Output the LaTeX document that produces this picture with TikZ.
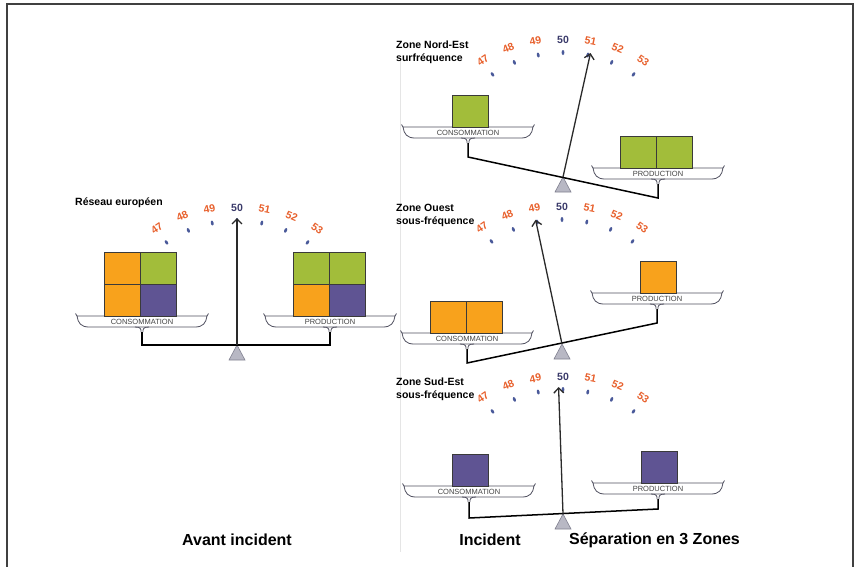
\documentclass[tikz,border=0pt]{standalone}
\usepackage{fontspec}
\setmainfont{Liberation Sans}
\usetikzlibrary{arrows.meta,calc,shapes.geometric}
\definecolor{cOrange}{HTML}{F8A21C}
\definecolor{cGreen}{HTML}{A2BD3A}
\definecolor{cPurple}{HTML}{5F5493}
\definecolor{boxline}{HTML}{3A3A3A}
\definecolor{panc}{HTML}{505060}
\definecolor{panlbl}{HTML}{444444}
\definecolor{numred}{HTML}{E8602C}
\definecolor{numdark}{HTML}{3A3A6A}
\definecolor{tickc}{HTML}{4A5A9A}
\definecolor{fulc}{HTML}{B8B8C4}
\definecolor{fulcd}{HTML}{808090}
\definecolor{needlec}{HTML}{2A2A2A}
\definecolor{framec}{HTML}{404040}
\newcommand{\drawgauge}[4]{%
  \coordinate (#1-pivot) at (#2,#3);
  \foreach \v [count=\k from -3] in {47,48,49,50,51,52,53}{%
    \pgfmathsetmacro{\ang}{90-11.5*\k}%
    \pgfmathsetmacro{\rad}{137+1.5*abs(\k)}%
    \pgfmathsetmacro{\rot}{\ang-90}%
    \ifnum\v=50 \def\ncol{numdark}\else\def\ncol{numred}\fi
    \node[numlbl, text=\ncol, rotate=\rot] (#1-n\v) at ($(#1-pivot)+({\rad*cos(\ang)},{-\rad*sin(\ang)})$) {\v};
    \node[tickmark, rotate=\rot] (#1-t\v) at ($(#1-pivot)+({124.5*cos(\ang)},{-124.5*sin(\ang)})$) {};
  }%
  \filldraw[fulcrum] (#1-pivot) -- ++(-8,15) -- ++(16,0) -- cycle;
  \coordinate (#1-tip) at ($(#1-pivot)+({127*cos(#4)},{-127*sin(#4)})$);
}
\tikzset{
  pics/pan/.style={code={
    \filldraw[panfill] (-65,0) .. controls (-64,7) and (-61,11) .. (-53,11) -- (53,11) .. controls (61,11) and (64,7) .. (65,0) -- cycle;
    \draw[panstroke] (-65,0) -- (-66.5,-2.5);
    \draw[panstroke] (65,0) -- (66.5,-2.5);
    \draw[panstroke] (-7,11) .. controls (-1,11) and (-1,13) .. (-1,16);
    \draw[panstroke] (7,11) .. controls (1,11) and (1,13) .. (1,16);
    \node[panlabel] (-lbl) at (0,5.5) {#1};
    \coordinate (-stem) at (0,16);
  }},
  box/.style={draw=boxline, line width=0.6pt, minimum width=36pt, minimum height=32pt, inner sep=0pt},
  panfill/.style={draw=panc, line width=0.8pt, fill=white},
  panstroke/.style={draw=panc, line width=0.8pt},
  panlabel/.style={font=\fontsize{7.5}{8}\selectfont, text=panlbl, inner sep=0pt},
  numlbl/.style={font=\bfseries\fontsize{10.5}{11}\selectfont, inner sep=0pt},
  tickmark/.style={ellipse, fill=tickc, minimum width=2.8pt, minimum height=5pt, inner sep=0pt},
  needle/.style={draw=needlec, line width=1.3pt, -{Straight Barb[length=5pt,width=10pt]}},
  beam/.style={draw=black, line width=1.5pt, line join=miter},
  fulcrum/.style={fill=fulc, draw=fulcd, line width=0.6pt},
  zonelbl/.style={font=\bfseries\fontsize{10.5}{12.8}\selectfont, align=left, inner sep=0pt},
  caption/.style={font=\bfseries\fontsize{16}{18}\selectfont, inner sep=0pt}
}
\begin{document}
\begin{tikzpicture}[x=1pt,y=-1pt]
\useasboundingbox (0,0) rectangle (859,566);
\fill[white] (0,0) rectangle (859,566);
% frame
\coordinate (f1) at (7,570);
\coordinate (f2) at (7,4);
\coordinate (f3) at (853,4);
\coordinate (f4) at (853,570);
\draw[framec, line width=1.6pt] (f1) -- (f2) -- (f3) -- (f4);
% separator
\coordinate (s1) at (400,60);
\coordinate (s2) at (400,552);
\draw[black!10, line width=0.6pt] (s1) -- (s2);

% ===== Left: Reseau europeen =====
\node[zonelbl, anchor=west] (lz) at (75,203) {Réseau européen};
\drawgauge{L}{237}{345}{90}
\pic (lcp) at (142,316) {pan={CONSOMMATION}};
\pic (lpp) at (330,316) {pan={PRODUCTION}};
\node[box, fill=cOrange] (lc1) at (122,268) {};
\node[box, fill=cGreen]  (lc2) at (158,268) {};
\node[box, fill=cOrange] (lc3) at (122,300) {};
\node[box, fill=cPurple] (lc4) at (158,300) {};
\node[box, fill=cGreen]  (lp1) at (311,268) {};
\node[box, fill=cGreen]  (lp2) at (347,268) {};
\node[box, fill=cOrange] (lp3) at (311,300) {};
\node[box, fill=cPurple] (lp4) at (347,300) {};
\coordinate (L-cl) at (142,345);
\coordinate (L-cr) at (330,345);
\draw[beam] (lcp-stem) -- (L-cl) -- (L-cr) -- (lpp-stem);
\draw[needle] (L-pivot) -- (L-tip);

% ===== Zone Nord-Est =====
\node[zonelbl, anchor=north west] (az) at (396,40.5) {Zone Nord-Est\\surfréquence};
\drawgauge{A}{563}{177}{77.5}
\pic (acp) at (468,127) {pan={CONSOMMATION}};
\pic (app) at (658,168) {pan={PRODUCTION}};
\node[box, fill=cGreen] (ac1) at (470,111) {};
\node[box, fill=cGreen] (ap1) at (638,152) {};
\node[box, fill=cGreen] (ap2) at (674,152) {};
\coordinate (A-cl) at (468,157);
\coordinate (A-cr) at (658,198);
\draw[beam] (acp-stem) -- (A-cl) -- (A-cr) -- (app-stem);
\draw[needle] (A-pivot) -- (A-tip);

% ===== Zone Ouest =====
\node[zonelbl, anchor=north west] (bz) at (396,204) {Zone Ouest\\sous-fréquence};
\drawgauge{B}{562}{344}{102}
\pic (bcp) at (467,333) {pan={CONSOMMATION}};
\pic (bpp) at (657,293) {pan={PRODUCTION}};
\node[box, fill=cOrange] (bc1) at (448,317) {};
\node[box, fill=cOrange] (bc2) at (484,317) {};
\node[box, fill=cOrange] (bp1) at (658,277) {};
\coordinate (B-cl) at (467,363);
\coordinate (B-cr) at (657,323);
\draw[beam] (bcp-stem) -- (B-cl) -- (B-cr) -- (bpp-stem);
\draw[needle] (B-pivot) -- (B-tip);

% ===== Zone Sud-Est =====
\node[zonelbl, anchor=north west] (cz) at (396,378) {Zone Sud-Est\\sous-fréquence};
\drawgauge{C}{563}{514}{92}
\pic (ccp) at (469,486) {pan={CONSOMMATION}};
\pic (cpp) at (658,483) {pan={PRODUCTION}};
\node[box, fill=cPurple] (cc1) at (470,470) {};
\node[box, fill=cPurple] (cp1) at (659,467) {};
\coordinate (C-cl) at (469,518);
\coordinate (C-cr) at (658,509);
\draw[beam] (ccp-stem) -- (C-cl) -- (C-cr) -- (cpp-stem);
\draw[needle] (C-pivot) -- (C-tip);

% ===== captions =====
\node[caption] (cap1) at (237,540) {Avant incident};
\node[caption] (cap2) at (490,540) {Incident};
\node[caption] (cap3) at (654.5,540) {Séparation en 3 Zones};
\end{tikzpicture}
\end{document}
